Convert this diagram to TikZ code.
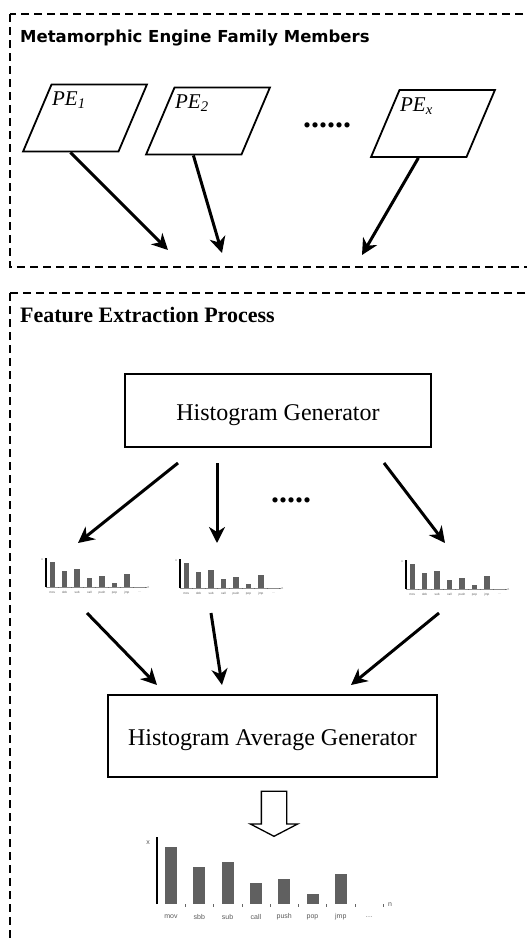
\documentclass[tikz,border=0pt]{standalone}
\usepackage{fontspec}
\setmainfont{Liberation Serif}
\setsansfont{Liberation Sans}
\newfontfamily\headfont{DejaVu Sans}
\usepackage{tikz}
\usetikzlibrary {arrows.meta,
                 positioning,
                 shapes.arrows,
                 shapes.geometric}
\definecolor{barfill}{HTML}{606060}
\tikzset{
        frame/.style={dash pattern=on 8pt off 5pt, line width=1.2pt},
        io/.style={trapezium, trapezium left angle=67, trapezium right
                   angle=113, draw, line width=1.8pt, minimum width=124pt,
                   minimum height=60pt, inner sep=2pt},
        pelabel/.style={anchor=north west, inner sep=0pt, xshift=1pt, yshift=-8pt,
                        font=\itshape\fontsize{21}{23}\selectfont},
        proc/.style={draw, rectangle, line width=2pt, text height=19pt, text depth=0pt,
                     font=\fontsize{24}{28}\selectfont},
        title/.style={anchor=base west, inner sep=0pt},
        dots/.style={inner sep=0pt, font=\bfseries\fontsize{32}{33}\selectfont},
        hollow/.style={single arrow, draw, line width=1.3pt, shape border rotate=270,
                       minimum height=45pt, inner sep=12pt, single arrow head extend=11pt,
                       single arrow head indent=0pt, single arrow tip angle=125},
        histtext/.style={inner sep=0pt, text=black!65, font=\sffamily\fontsize{7}{8}\selectfont},
        bar/.style={fill=barfill},
        myarrow/.style={-{Stealth[length=16pt, width=16pt, inset=5pt]}, line width=3pt},
 }
% histogram: name, origin, scale, baseline colour
\newcommand{\histo}[4]{%
  \begin{scope}[shift={#2}, scale=#3, transform shape]
    \coordinate (#1) at (0,0);
    \draw[line width=1.2pt] (#1) -- ++(0,-67);
    \draw[#4, line width=0.5pt] (#1) -- ++(230,0);
    \node[histtext] (#1-x) at (-9,-61) {x};
    \foreach \h [count=\i] in {57,37,42,21,25,10,30}
      \fill[bar] ({8+28.3*(\i-1)},0) rectangle ++(12,-\h);
    \foreach \t [count=\i] in {mov,sbb,sub,call,push,pop,jmp,\ldots}
      \node[histtext] (#1-\i) at ({14+28.3*(\i-1)},13) {\t};
    \foreach \i in {1,...,8}
      \draw[black!60, line width=0.8pt] ({28.3*\i},0) -- ++(0,2.5);
    \node[histtext] (#1-n) at (233,1) {n};
  \end{scope}}

\begin{document}
\begin{tikzpicture}[x=1pt, y=-1pt]
    \useasboundingbox (0,0) rectangle (527,938);

    % engine family members
    \draw[frame] (10,14) rectangle (540,267);
    \node[title, font=\headfont\bfseries\fontsize{16.5}{18}\selectfont] (ttop) at (20,42)
         {Metamorphic Engine Family Members};

    \node[io] (pe1) at (85,118) {};
    \node[io] (pe2) at (208,121) {};
    \node[io] (pex) at (433,123.5) {};
    \node[pelabel] (pe1t) at (pe1.top left corner) {PE\textsubscript{1}};
    \node[pelabel] (pe2t) at (pe2.top left corner) {PE\textsubscript{2}};
    \node[pelabel] (pext) at (pex.top left corner) {PE\textsubscript{x}};
    \node[dots] (dtop) at (327,125) {......};

    \coordinate (t1) at (168,250);
    \coordinate (t2) at (222,253);
    \coordinate (t3) at (362,255);
    \draw[myarrow] (pe1.bottom side) -- (t1);
    \draw[myarrow] (pe2.bottom side) -- (t2);
    \draw[myarrow] (pex.bottom side) -- (t3);

    % feature extraction
    \draw[frame] (10,293) rectangle (540,950);
    \node[title, font=\bfseries\fontsize{22}{24}\selectfont] (tfeat) at (20,322)
         {Feature Extraction Process};

    \node[proc, minimum width=306pt, minimum height=73pt] (hg) at (278,410.5)
         {Histogram Generator};

    \coordinate (g1) at (178,463);
    \coordinate (g2) at (217,463);
    \coordinate (g3) at (384,463);
    \coordinate (h1) at (78,543);
    \coordinate (h2) at (217,543);
    \coordinate (h3) at (445,543);
    \draw[myarrow] (g1) -- (h1);
    \draw[myarrow] (g2) -- (h2);
    \draw[myarrow] (g3) -- (h3);
    \node[dots] (dmid) at (291,500) {.....};

    \histo{hist1}{(46,587)}{0.44}{black!45}
    \histo{hist2}{(180,588)}{0.44}{black!45}
    \histo{hist3}{(406,589)}{0.44}{black!45}

    \coordinate (k1) at (87,613);
    \coordinate (k2) at (211,613);
    \coordinate (k3) at (439,613);
    \coordinate (a1) at (157,685);
    \coordinate (a2) at (222,685);
    \coordinate (a3) at (351,685);
    \draw[myarrow] (k1) -- (a1);
    \draw[myarrow] (k2) -- (a2);
    \draw[myarrow] (k3) -- (a3);

    \node[proc, minimum width=329pt, minimum height=82pt] (hag) at (272.5,736)
         {Histogram Average Generator};

    \node[hollow] (down) at (274,810.5) {};

    \histo{avg}{(157,904)}{1}{white}
\end{tikzpicture}
\end{document}
